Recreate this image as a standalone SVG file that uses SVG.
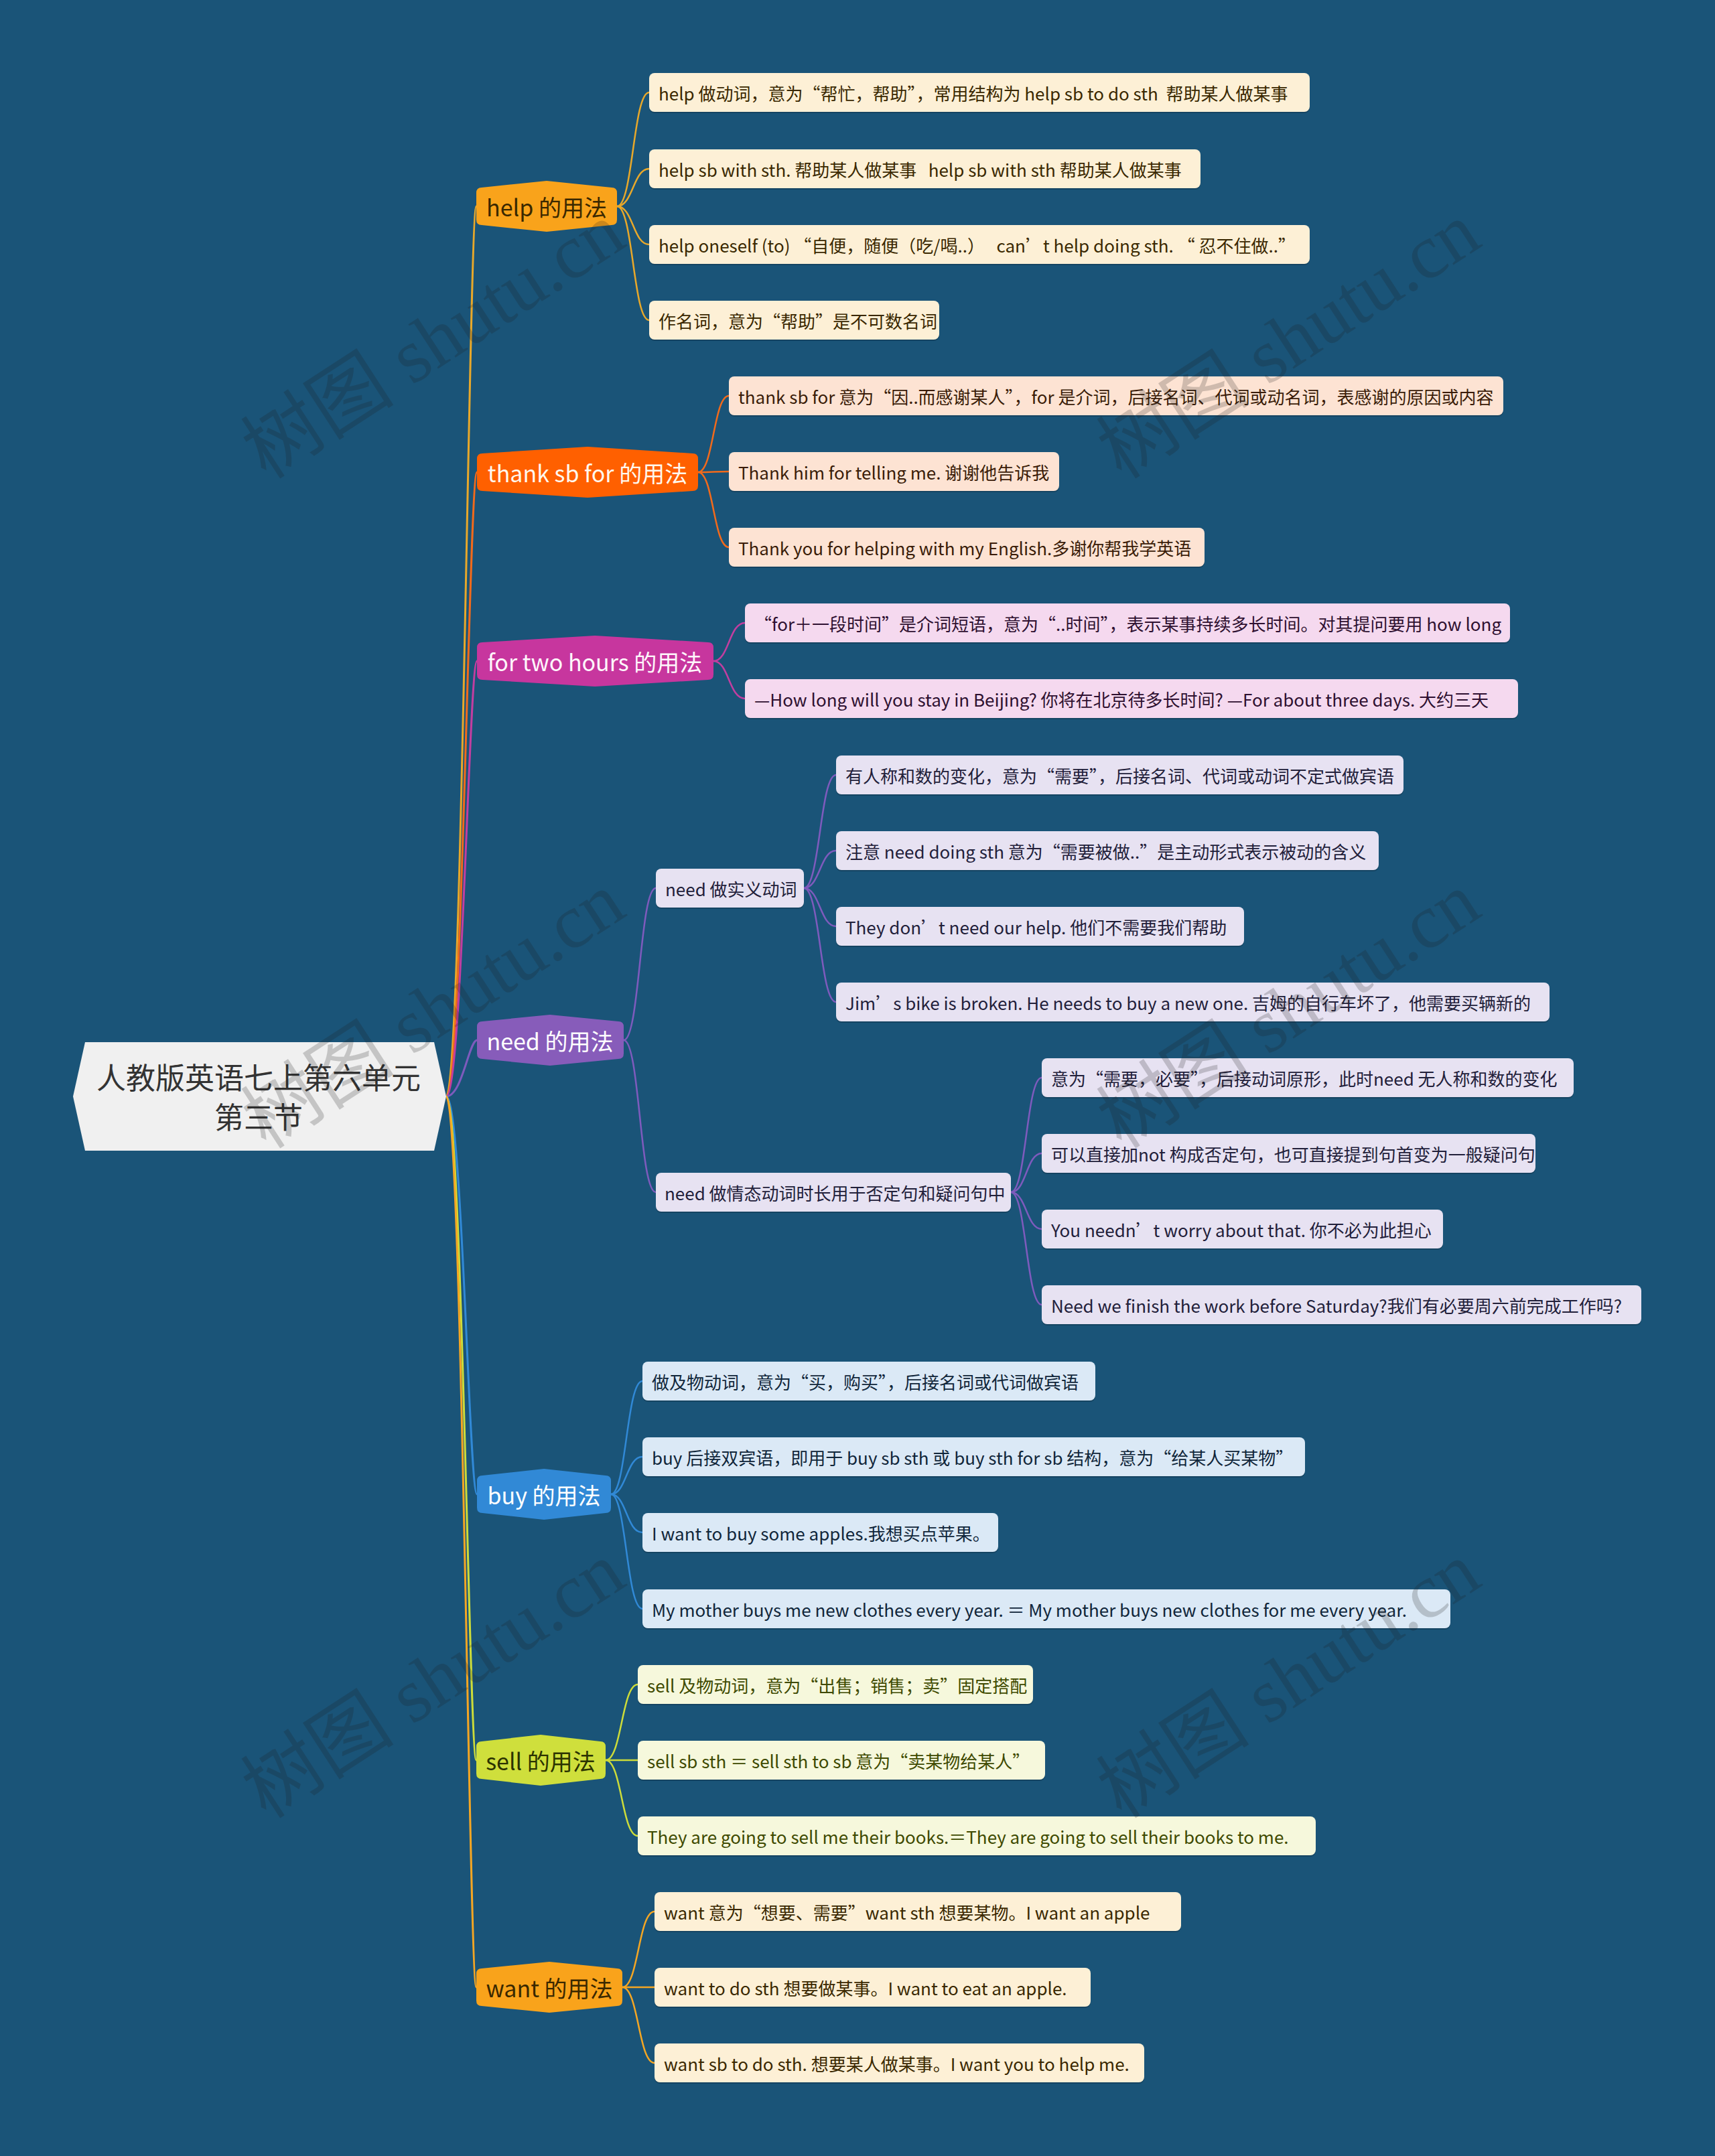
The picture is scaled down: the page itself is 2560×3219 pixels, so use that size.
<svg xmlns="http://www.w3.org/2000/svg" width="2560" height="3219" viewBox="0 0 2560 3219">
<style>
text{font-family:"Noto Sans CJK SC","Noto Sans",sans-serif;white-space:pre;dominant-baseline:central}
.leaf text{font-size:26px}
.main text{font-size:34px;text-anchor:middle}
.c{fill:none;stroke-width:2.5}
.cm{fill:none;stroke-width:3}
.sh{fill:#000;opacity:0.18}
.wm{font-family:"Liberation Serif","Noto Sans CJK SC",serif;font-size:115px;fill:#1c1c1c;opacity:0.2;text-anchor:middle}
.y text{fill:#3a2800}.y rect.b{fill:#fdf0d6}
.o text{fill:#3a1c08}.o rect.b{fill:#fde3d3}
.m text{fill:#2e1030}.m rect.b{fill:#f5d9ef}
.p text{fill:#22203a}.p rect.b{fill:#e7e2f2}
.bl text{fill:#10263a}.bl rect.b{fill:#dbe9f6}
.g text{fill:#3e4a00}.g rect.b{fill:#f6f8dc}
</style>
<rect x="0" y="0" width="2560" height="3219" fill="#1a5478"/>

<g id="connectors">
<g stroke="#e8a82a" class="cm"><path d="M666 1637 C690 1637 700 308 711 308"/></g>
<g stroke="#f26a1b" class="cm"><path d="M666 1637 C690 1637 700 705 712 705"/></g>
<g stroke="#c23ea0" class="cm"><path d="M666 1637 C690 1637 700 987 712 987"/></g>
<g stroke="#7e5bbd" class="cm"><path d="M666 1637 C690 1637 700 1553 712 1553"/></g>
<g stroke="#3189d6" class="cm"><path d="M666 1637 C690 1637 700 2231 712 2231"/></g>
<g stroke="#cddc39" class="cm"><path d="M666 1637 C690 1637 700 2628 711 2628"/></g>
<g stroke="#f5a623" class="cm"><path d="M666 1637 C690 1637 700 2967 711 2967"/></g>

<g stroke="#e8a82a" class="c">
<path d="M921 308 C945 308 945 138 969 138"/>
<path d="M921 308 C945 308 945 252 969 252"/>
<path d="M921 308 C945 308 945 365 969 365"/>
<path d="M921 308 C945 308 945 478 969 478"/>
</g>
<g stroke="#f26a1b" class="c">
<path d="M1042 705 C1065 705 1065 591 1088 591"/>
<path d="M1042 705 C1065 705 1065 704 1088 704"/>
<path d="M1042 705 C1065 705 1065 817 1088 817"/>
</g>
<g stroke="#c23ea0" class="c">
<path d="M1065 987 C1088 987 1088 930 1112 930"/>
<path d="M1065 987 C1088 987 1088 1043 1112 1043"/>
</g>
<g stroke="#7e5bbd" class="c">
<path d="M931 1553 C955 1553 955 1326 979 1326"/>
<path d="M931 1553 C955 1553 955 1780 979 1780"/>
<path d="M1200 1326 C1224 1326 1224 1157 1248 1157"/>
<path d="M1200 1326 C1224 1326 1224 1270 1248 1270"/>
<path d="M1200 1326 C1224 1326 1224 1383 1248 1383"/>
<path d="M1200 1326 C1224 1326 1224 1496 1248 1496"/>
<path d="M1509 1780 C1532 1780 1532 1609 1555 1609"/>
<path d="M1509 1780 C1532 1780 1532 1722 1555 1722"/>
<path d="M1509 1780 C1532 1780 1532 1835 1555 1835"/>
<path d="M1509 1780 C1532 1780 1532 1948 1555 1948"/>
</g>
<g stroke="#3189d6" class="c">
<path d="M912 2231 C935 2231 935 2062 959 2062"/>
<path d="M912 2231 C935 2231 935 2175 959 2175"/>
<path d="M912 2231 C935 2231 935 2288 959 2288"/>
<path d="M912 2231 C935 2231 935 2402 959 2402"/>
</g>
<g stroke="#cddc39" class="c">
<path d="M904 2628 C928 2628 928 2515 952 2515"/>
<path d="M904 2628 C928 2628 928 2628 952 2628"/>
<path d="M904 2628 C928 2628 928 2741 952 2741"/>
</g>
<g stroke="#f5a623" class="c">
<path d="M929 2967 C953 2967 953 2854 977 2854"/>
<path d="M929 2967 C953 2967 953 2967 977 2967"/>
<path d="M929 2967 C953 2967 953 3080 977 3080"/>
</g>
</g>

<g id="root">
<polygon points="127,1556 648,1556 666,1637 648,1718 127,1718 109,1637" fill="#f0f0f0"/>
<text x="386" y="1607" font-size="44" fill="#333" text-anchor="middle">人教版英语七上第六单元</text>
<text x="386" y="1666" font-size="44" fill="#333" text-anchor="middle">第三节</text>
</g>

<g class="main">
<g id="m-help"><path d="M711 288 Q711 280 719 280 L816 270 L913 280 Q921 280 921 288 L921 328 Q921 336 913 336 L816 346 L719 336 Q711 336 711 328 Z" fill="#f9a31b"/><text x="816" y="308" fill="#3a2800">help 的用法</text></g>
<g id="m-thank"><path d="M712 685 Q712 677 720 677 L877 667 L1034 677 Q1042 677 1042 685 L1042 725 Q1042 733 1034 733 L877 743 L720 733 Q712 733 712 725 Z" fill="#ff6000"/><text x="877" y="705" fill="#fff8ee">thank sb for 的用法</text></g>
<g id="m-for"><path d="M712 967 Q712 959 720 959 L888 949 L1057 959 Q1065 959 1065 967 L1065 1007 Q1065 1015 1057 1015 L888 1025 L720 1015 Q712 1015 712 1007 Z" fill="#c7369e"/><text x="888" y="987" fill="#fff6fb">for two hours 的用法</text></g>
<g id="m-need"><path d="M712 1533 Q712 1525 720 1525 L821 1515 L923 1525 Q931 1525 931 1533 L931 1573 Q931 1581 923 1581 L821 1591 L720 1581 Q712 1581 712 1573 Z" fill="#875cba"/><text x="821" y="1553" fill="#fff">need 的用法</text></g>
<g id="m-buy"><path d="M712 2211 Q712 2203 720 2203 L812 2193 L904 2203 Q912 2203 912 2211 L912 2251 Q912 2259 904 2259 L812 2269 L720 2259 Q712 2259 712 2251 Z" fill="#3189d6"/><text x="812" y="2231" fill="#fff">buy 的用法</text></g>
<g id="m-sell"><path d="M711 2608 Q711 2600 719 2600 L807 2590 L896 2600 Q904 2600 904 2608 L904 2648 Q904 2656 896 2656 L807 2666 L719 2656 Q711 2656 711 2648 Z" fill="#cfdf3c"/><text x="807" y="2628" fill="#2c3300">sell 的用法</text></g>
<g id="m-want"><path d="M711 2947 Q711 2939 719 2939 L820 2929 L921 2939 Q929 2939 929 2947 L929 2987 Q929 2995 921 2995 L820 3005 L719 2995 Q711 2995 711 2987 Z" fill="#f9a31b"/><text x="820" y="2967" fill="#3a2800">want 的用法</text></g>
</g>

<g class="leaf y">
<g id="l-help1"><rect class="sh" x="969" y="111" width="986" height="58" rx="8"/><rect class="b" x="969" y="109" width="986" height="58" rx="8"/><text x="983" y="138">help 做动词，意为“帮忙，帮助”，常用结构为 help sb to do sth  帮助某人做某事</text></g>
<g id="l-help2"><rect class="sh" x="969" y="225" width="823" height="58" rx="8"/><rect class="b" x="969" y="223" width="823" height="58" rx="8"/><text x="983" y="252">help sb with sth. 帮助某人做某事   help sb with sth 帮助某人做某事</text></g>
<g id="l-help3"><rect class="sh" x="969" y="338" width="986" height="58" rx="8"/><rect class="b" x="969" y="336" width="986" height="58" rx="8"/><text x="983" y="365">help oneself (to) “自便，随便（吃/喝..）   can’t help doing sth. “ 忍不住做..”</text></g>
<g id="l-help4"><rect class="sh" x="969" y="451" width="433" height="58" rx="8"/><rect class="b" x="969" y="449" width="433" height="58" rx="8"/><text x="983" y="478">作名词，意为“帮助”是不可数名词</text></g>
</g>

<g class="leaf o">
<g id="l-thank1"><rect class="sh" x="1088" y="564" width="1156" height="58" rx="8"/><rect class="b" x="1088" y="562" width="1156" height="58" rx="8"/><text x="1102" y="591">thank sb for 意为“因..而感谢某人”，for 是介词，后接名词、代词或动名词，表感谢的原因或内容</text></g>
<g id="l-thank2"><rect class="sh" x="1088" y="677" width="493" height="58" rx="8"/><rect class="b" x="1088" y="675" width="493" height="58" rx="8"/><text x="1102" y="704">Thank him for telling me. 谢谢他告诉我</text></g>
<g id="l-thank3"><rect class="sh" x="1088" y="790" width="710" height="58" rx="8"/><rect class="b" x="1088" y="788" width="710" height="58" rx="8"/><text x="1102" y="817">Thank you for helping with my English.多谢你帮我学英语</text></g>
</g>

<g class="leaf m">
<g id="l-for1"><rect class="sh" x="1112" y="903" width="1142" height="58" rx="8"/><rect class="b" x="1112" y="901" width="1142" height="58" rx="8"/><text x="1126" y="930">“for＋一段时间”是介词短语，意为“..时间”，表示某事持续多长时间。对其提问要用 how long</text></g>
<g id="l-for2"><rect class="sh" x="1112" y="1016" width="1154" height="58" rx="8"/><rect class="b" x="1112" y="1014" width="1154" height="58" rx="8"/><text x="1126" y="1043">—How long will you stay in Beijing? 你将在北京待多长时间? —For about three days. 大约三天</text></g>
</g>

<g class="leaf p">
<g id="l-need1"><rect class="sh" x="979" y="1299" width="221" height="58" rx="8"/><rect class="b" x="979" y="1297" width="221" height="58" rx="8"/><text x="993" y="1326">need 做实义动词</text></g>
<g id="l-need2"><rect class="sh" x="979" y="1753" width="530" height="58" rx="8"/><rect class="b" x="979" y="1751" width="530" height="58" rx="8"/><text x="992" y="1780">need 做情态动词时长用于否定句和疑问句中</text></g>
<g id="l-need1a"><rect class="sh" x="1248" y="1130" width="847" height="58" rx="8"/><rect class="b" x="1248" y="1128" width="847" height="58" rx="8"/><text x="1262" y="1157">有人称和数的变化，意为“需要”，后接名词、代词或动词不定式做宾语</text></g>
<g id="l-need1b"><rect class="sh" x="1248" y="1243" width="810" height="58" rx="8"/><rect class="b" x="1248" y="1241" width="810" height="58" rx="8"/><text x="1262" y="1270">注意 need doing sth 意为“需要被做..”是主动形式表示被动的含义</text></g>
<g id="l-need1c"><rect class="sh" x="1248" y="1356" width="609" height="58" rx="8"/><rect class="b" x="1248" y="1354" width="609" height="58" rx="8"/><text x="1262" y="1383">They don’t need our help. 他们不需要我们帮助</text></g>
<g id="l-need1d"><rect class="sh" x="1248" y="1469" width="1065" height="58" rx="8"/><rect class="b" x="1248" y="1467" width="1065" height="58" rx="8"/><text x="1262" y="1496">Jim’s bike is broken. He needs to buy a new one. 吉姆的自行车坏了，他需要买辆新的</text></g>
<g id="l-need2e"><rect class="sh" x="1555" y="1582" width="794" height="58" rx="8"/><rect class="b" x="1555" y="1580" width="794" height="58" rx="8"/><text x="1569" y="1609">意为“需要，必要”，后接动词原形，此时need 无人称和数的变化</text></g>
<g id="l-need2f"><rect class="sh" x="1555" y="1695" width="737" height="58" rx="8"/><rect class="b" x="1555" y="1693" width="737" height="58" rx="8"/><text x="1569" y="1722">可以直接加not 构成否定句，也可直接提到句首变为一般疑问句</text></g>
<g id="l-need2g"><rect class="sh" x="1555" y="1808" width="599" height="58" rx="8"/><rect class="b" x="1555" y="1806" width="599" height="58" rx="8"/><text x="1569" y="1835">You needn’t worry about that. 你不必为此担心</text></g>
<g id="l-need2h"><rect class="sh" x="1555" y="1921" width="895" height="58" rx="8"/><rect class="b" x="1555" y="1919" width="895" height="58" rx="8"/><text x="1569" y="1948">Need we finish the work before Saturday?我们有必要周六前完成工作吗?</text></g>
</g>

<g class="leaf bl">
<g id="l-buy1"><rect class="sh" x="959" y="2035" width="676" height="58" rx="8"/><rect class="b" x="959" y="2033" width="676" height="58" rx="8"/><text x="973" y="2062">做及物动词，意为“买，购买”，后接名词或代词做宾语</text></g>
<g id="l-buy2"><rect class="sh" x="959" y="2148" width="989" height="58" rx="8"/><rect class="b" x="959" y="2146" width="989" height="58" rx="8"/><text x="973" y="2175">buy 后接双宾语，即用于 buy sb sth 或 buy sth for sb 结构，意为“给某人买某物”</text></g>
<g id="l-buy3"><rect class="sh" x="959" y="2261" width="531" height="58" rx="8"/><rect class="b" x="959" y="2259" width="531" height="58" rx="8"/><text x="973" y="2288">I want to buy some apples.我想买点苹果。</text></g>
<g id="l-buy4"><rect class="sh" x="959" y="2375" width="1206" height="58" rx="8"/><rect class="b" x="959" y="2373" width="1206" height="58" rx="8"/><text x="973" y="2402">My mother buys me new clothes every year. ＝ My mother buys new clothes for me every year.</text></g>
</g>

<g class="leaf g">
<g id="l-sell1"><rect class="sh" x="952" y="2488" width="590" height="58" rx="8"/><rect class="b" x="952" y="2486" width="590" height="58" rx="8"/><text x="966" y="2515">sell 及物动词，意为“出售；销售；卖”固定搭配</text></g>
<g id="l-sell2"><rect class="sh" x="952" y="2601" width="608" height="58" rx="8"/><rect class="b" x="952" y="2599" width="608" height="58" rx="8"/><text x="966" y="2628">sell sb sth ＝ sell sth to sb 意为“卖某物给某人”</text></g>
<g id="l-sell3"><rect class="sh" x="952" y="2714" width="1012" height="58" rx="8"/><rect class="b" x="952" y="2712" width="1012" height="58" rx="8"/><text x="966" y="2741">They are going to sell me their books.＝They are going to sell their books to me.</text></g>
</g>

<g class="leaf y">
<g id="l-want1"><rect class="sh" x="977" y="2827" width="786" height="58" rx="8"/><rect class="b" x="977" y="2825" width="786" height="58" rx="8"/><text x="991" y="2854">want 意为“想要、需要”want sth 想要某物。I want an apple</text></g>
<g id="l-want2"><rect class="sh" x="977" y="2940" width="651" height="58" rx="8"/><rect class="b" x="977" y="2938" width="651" height="58" rx="8"/><text x="991" y="2967">want to do sth 想要做某事。I want to eat an apple.</text></g>
<g id="l-want3"><rect class="sh" x="977" y="3053" width="731" height="58" rx="8"/><rect class="b" x="977" y="3051" width="731" height="58" rx="8"/><text x="991" y="3080">want sb to do sth. 想要某人做某事。I want you to help me.</text></g>
</g>

<g id="watermarks">
<text class="wm" transform="translate(647 509) rotate(-33)">树图 shutu.cn</text>
<text class="wm" transform="translate(1924 509) rotate(-33)">树图 shutu.cn</text>
<text class="wm" transform="translate(647 1509) rotate(-33)">树图 shutu.cn</text>
<text class="wm" transform="translate(1924 1509) rotate(-33)">树图 shutu.cn</text>
<text class="wm" transform="translate(647 2509) rotate(-33)">树图 shutu.cn</text>
<text class="wm" transform="translate(1924 2509) rotate(-33)">树图 shutu.cn</text>
</g>
</svg>
